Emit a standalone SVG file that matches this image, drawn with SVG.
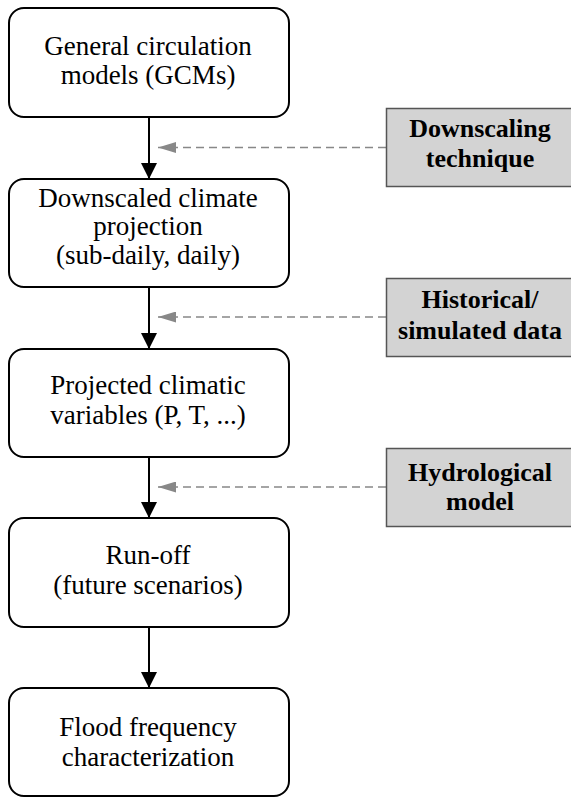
<svg xmlns="http://www.w3.org/2000/svg" width="571" height="797" viewBox="0 0 571 797">
<defs>
<style>
.node rect{fill:#fff;stroke:#000;stroke-width:2}
.node text{font-family:'Liberation Serif','Times New Roman',serif;font-size:27px;fill:#000;text-anchor:middle}
.src rect{fill:#d3d3d3;stroke:#555;stroke-width:1.5}
.src text{font-family:'Liberation Serif','Times New Roman',serif;font-size:26px;font-weight:bold;fill:#000;text-anchor:middle}
.flow{stroke:#000;stroke-width:2;fill:none}
.dash{stroke:#888;stroke-width:1.5;stroke-dasharray:8 5;fill:none}
</style>
<marker id="ah" markerWidth="16" markerHeight="16" viewBox="0 0 16 16" refX="16" refY="8" orient="auto" markerUnits="userSpaceOnUse">
<path d="M0,0 L16,8 L0,16 Z" fill="#000"/>
</marker>
<marker id="gh" markerWidth="18" markerHeight="11" viewBox="0 0 18 11" refX="18" refY="5.5" orient="auto" markerUnits="userSpaceOnUse">
<path d="M0,0 L18,5.5 L0,11 Z" fill="#888"/>
</marker>
</defs>
<rect x="0" y="0" width="571" height="797" fill="#fff"/>

<g id="connectors">
<line class="flow" x1="149" y1="117" x2="149" y2="179" marker-end="url(#ah)"/>
<line class="flow" x1="149" y1="287" x2="149" y2="349" marker-end="url(#ah)"/>
<line class="flow" x1="149" y1="457" x2="149" y2="518" marker-end="url(#ah)"/>
<line class="flow" x1="149" y1="627" x2="149" y2="688" marker-end="url(#ah)"/>
<line class="dash" x1="386" y1="147.5" x2="158" y2="147.5" marker-end="url(#gh)"/>
<line class="dash" x1="386" y1="317" x2="158" y2="317" marker-end="url(#gh)"/>
<line class="dash" x1="386" y1="487" x2="158" y2="487" marker-end="url(#gh)"/>
</g>

<g id="gcm" class="node">
<rect x="9" y="8" width="280" height="109" rx="15" ry="15"/>
<text x="148" y="54.5">General circulation</text>
<text x="148" y="83.5">models (GCMs)</text>
</g>
<g id="downscaled" class="node">
<rect x="9" y="179" width="280" height="108" rx="15" ry="15"/>
<text x="148" y="207">Downscaled climate</text>
<text x="148" y="235">projection</text>
<text x="148" y="263.5">(sub-daily, daily)</text>
</g>
<g id="projected" class="node">
<rect x="9" y="349" width="280" height="108" rx="15" ry="15"/>
<text x="148" y="393.5">Projected climatic</text>
<text x="148" y="423.5">variables (P, T, ...)</text>
</g>
<g id="runoff" class="node">
<rect x="9" y="518" width="280" height="109" rx="15" ry="15"/>
<text x="148" y="563.5">Run-off</text>
<text x="148" y="593.5">(future scenarios)</text>
</g>
<g id="flood" class="node">
<rect x="9" y="688" width="280" height="108" rx="15" ry="15"/>
<text x="148" y="735.5">Flood frequency</text>
<text x="148" y="765.5">characterization</text>
</g>

<g id="downscaling" class="src">
<rect x="386.5" y="108.5" width="190" height="78"/>
<text x="480" y="137">Downscaling</text>
<text x="480" y="167">technique</text>
</g>
<g id="historical" class="src">
<rect x="386.5" y="278.5" width="190" height="78"/>
<text x="480" y="308">Historical/</text>
<text x="480" y="339">simulated data</text>
</g>
<g id="hydrological" class="src">
<rect x="386.5" y="448.5" width="190" height="78"/>
<text x="480" y="480.5">Hydrological</text>
<text x="480" y="510">model</text>
</g>
</svg>
